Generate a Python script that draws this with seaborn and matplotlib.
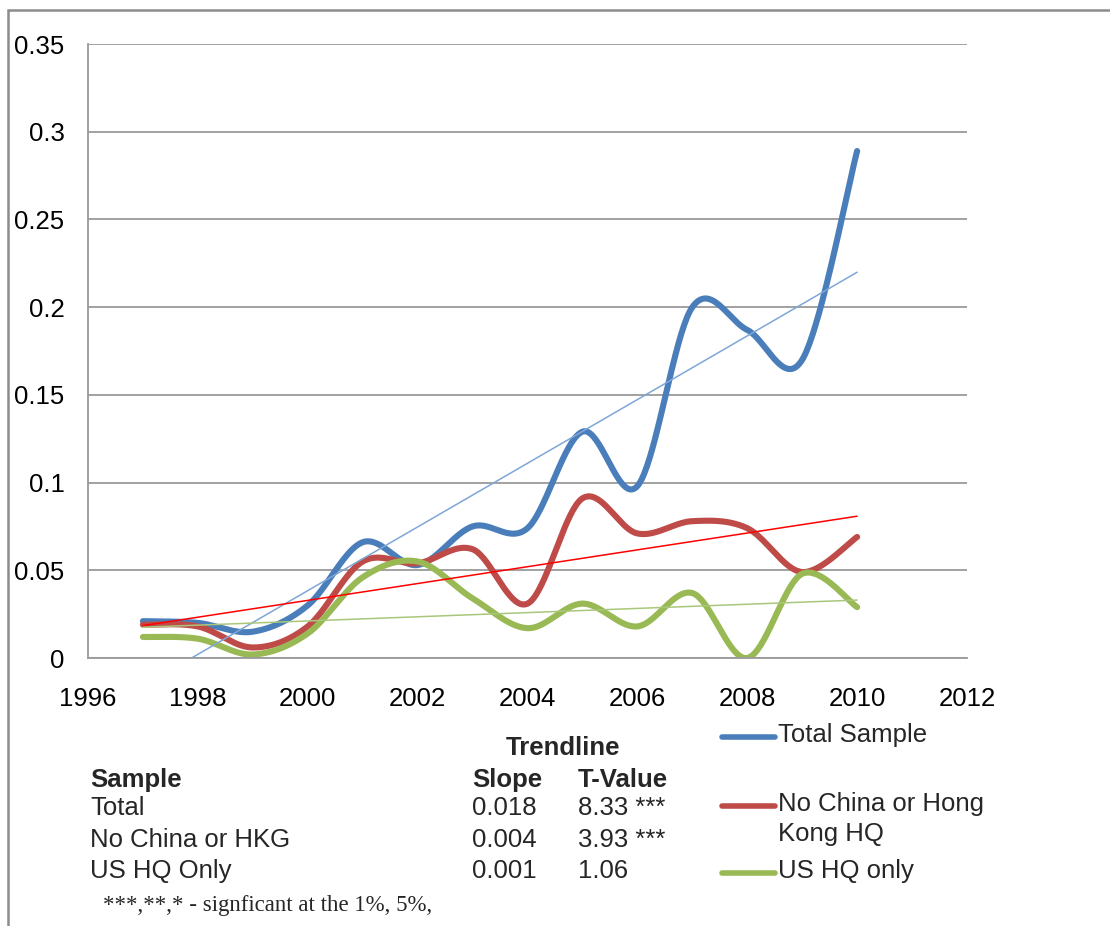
import matplotlib
matplotlib.use('Agg')
import matplotlib.pyplot as plt
from matplotlib.lines import Line2D
from matplotlib.patches import Rectangle
import numpy as np
import pandas as pd
import seaborn as sns

sns.set_style(style='white')
plt.rcParams['font.family'] = ['Liberation Sans', 'DejaVu Sans']

years = [1997, 1998, 1999, 2000, 2001, 2002, 2003, 2004, 2005, 2006, 2007, 2008, 2009, 2010]
total_sample = [0.021, 0.020, 0.015, 0.030, 0.066, 0.053, 0.075, 0.074, 0.129, 0.098, 0.200, 0.187, 0.170, 0.289]
no_china_hk = [0.019, 0.018, 0.006, 0.018, 0.055, 0.054, 0.062, 0.031, 0.091, 0.071, 0.078, 0.074, 0.049, 0.069]
us_hq_only = [0.012, 0.011, 0.002, 0.014, 0.046, 0.055, 0.034, 0.017, 0.031, 0.018, 0.037, 0.000, 0.048, 0.029]

series_names = ['Total Sample', 'No China or Hong\nKong HQ', 'US HQ only']
line_colors = ['#4A7EBB', '#BE4B48', '#98B954']
trend_colors = ['#7FA6D6', '#FF0000', '#A9C77A']

table_header = ['Sample', 'Slope', 'T-Value']
table_rows = [['Total', '0.018', '8.33 ***'],
              ['No China or HKG', '0.004', '3.93 ***'],
              ['US HQ Only', '0.001', '1.06']]
footnote = '***,**,* - signficant at the 1%, 5%,'


def smooth(x, y, n=40):
    # excel-style smoothed line (bezier through the points)
    x = np.asarray(x, float)
    y = np.asarray(y, float)
    px = np.r_[x[0], x, x[-1]]
    py = np.r_[y[0], y, y[-1]]
    t = np.linspace(0, 1, n, endpoint=False)
    ox, oy = [], []
    for i in range(1, len(px) - 2):
        for arr, out in ((px, ox), (py, oy)):
            p0, p1, p2, p3 = arr[i - 1:i + 3]
            c1 = p1 + (p2 - p0) / 6
            c2 = p2 - (p3 - p1) / 6
            out.extend((1 - t) ** 3 * p1 + 3 * (1 - t) ** 2 * t * c1
                       + 3 * (1 - t) * t ** 2 * c2 + t ** 3 * p2)
    ox.append(x[-1])
    oy.append(y[-1])
    return np.array(ox), np.array(oy)


W, H = 1110, 926
fig = plt.figure(figsize=(W / 100, H / 100), dpi=100)
ax = fig.add_axes([88 / W, 1 - 658 / H, (967 - 88) / W, (658 - 44) / H])

all_series = [total_sample, no_china_hk, us_hq_only]
for vals, col in zip(all_series, line_colors):
    sx, sy = smooth(years, vals)
    df = pd.DataFrame({'year': sx, 'value': sy})
    sns.lineplot(data=df, x='year', y='value', sort=False, estimator=None,
                 color=col, lw=4.4, ax=ax, solid_capstyle='round')

for vals, col in zip(all_series, trend_colors):
    sns.regplot(x=np.array(years), y=np.array(vals), scatter=False, ci=None,
                truncate=True, color=col, line_kws={'lw': 1.1}, ax=ax)

ax.set_xlim(1996, 2012)
ax.set_ylim(0, 0.35)
ax.set_xticks(np.arange(1996, 2013, 2))
ax.set_yticks(np.arange(0, 0.351, 0.05))
ax.set_yticklabels(['0', '0.05', '0.1', '0.15', '0.2', '0.25', '0.3', '0.35'])
ax.set_xlabel('')
ax.set_ylabel('')
ax.tick_params(axis='both', length=0, labelsize=18.5, colors='black')
ax.tick_params(axis='y', pad=17)
ax.tick_params(axis='x', pad=21)
ax.yaxis.grid(True, color='#9a9a9a', lw=1.3)
ax.set_axisbelow(True)
for side in ['top', 'right']:
    ax.spines[side].set_visible(False)
for side in ['left', 'bottom']:
    ax.spines[side].set_color('#9a9a9a')
    ax.spines[side].set_linewidth(1.3)

# outer frame
fig.add_artist(Rectangle((8 / W, -0.2), 1.5, (1 - 10 / H) + 0.2, fill=False,
                         edgecolor='#8c8c8c', lw=1.8, transform=fig.transFigure))

# legend
fs = 18.5
leg_y = [737, 806, 873]
for name, col, yy in zip(series_names, line_colors, leg_y):
    fig.add_artist(Line2D([722 / W, 775 / W], [1 - yy / H] * 2, color=col, lw=4,
                          transform=fig.transFigure))
    fig.text(778 / W, 1 - (yy - 14) / H, name, fontsize=fs, va='top', ha='left',
             linespacing=1.3)

# trendline table
fig.text(563 / W, 1 - 748 / H, 'Trendline', fontsize=fs, weight='bold', ha='center', va='center')
col_x = [90, 472, 578]
for txt, xx in zip(table_header, col_x):
    fig.text(xx / W, 1 - 780 / H, txt, fontsize=fs, weight='bold', va='center')
for row, yy in zip(table_rows, [808, 840, 871]):
    for txt, xx in zip(row, col_x):
        fig.text(xx / W, 1 - yy / H, txt, fontsize=fs, va='center')
fig.text(103 / W, 1 - 905 / H, footnote, fontsize=16.5, va='center',
         family=['Liberation Serif', 'DejaVu Serif'])

fig.savefig('out.png', dpi=100)
